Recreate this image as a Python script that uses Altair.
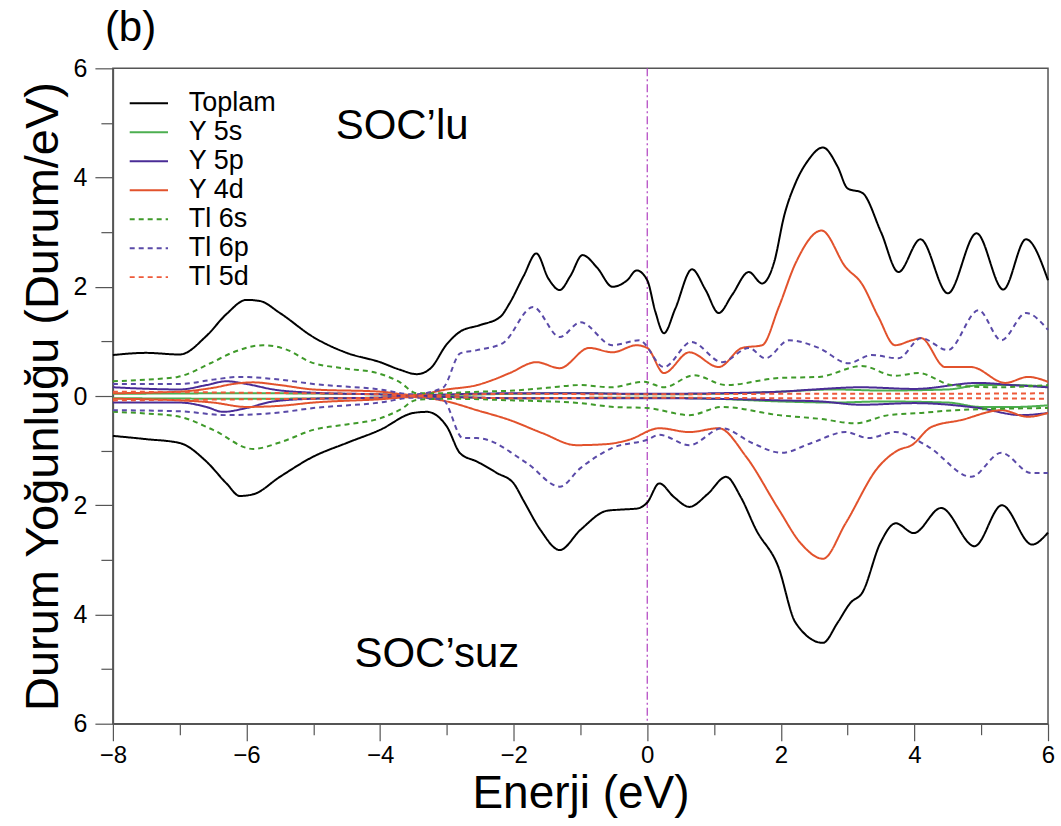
import altair as alt
import pandas as pd

# ---------------- data ----------------
series_order = ["Toplam", "Y 5s", "Y 5p", "Y 4d", "Tl 6s", "Tl 6p", "Tl 5d"]
series_colors = ["#000000", "#4caf50", "#4a2c96", "#e2522c", "#3f9a2a", "#5a4aa8", "#ee5a3a"]
series_dash = [[1, 0], [1, 0], [1, 0], [1, 0], [5, 4], [5, 4], [5, 4]]

# Toplam
toplam_up_E = [-8.0, -7.5, -7.0, -6.6, -6.3, -6.0, -5.8, -5.5, -5.0, -4.5, -4.0, -3.7, -3.45, -3.25, -3.0, -2.8,
               -2.5, -2.2, -2.06, -1.85, -1.66, -1.48, -1.31, -1.15, -0.97, -0.75, -0.52, -0.3, -0.16, 0.0, 0.12,
               0.25, 0.42, 0.67, 0.87, 1.07, 1.27, 1.52, 1.72, 1.9, 2.05, 2.22, 2.4, 2.63, 2.85, 3.0, 3.22, 3.5,
               3.76, 4.09, 4.5, 4.93, 5.33, 5.67, 6.0]
toplam_up = [0.75, 0.79, 0.76, 1.10, 1.50, 1.76, 1.74, 1.52, 1.08, 0.79, 0.62, 0.48, 0.40, 0.50, 0.95, 1.18,
             1.30, 1.45, 1.70, 2.20, 2.61, 2.15, 1.94, 2.20, 2.58, 2.35, 2.00, 2.12, 2.30, 2.12, 1.55,
             1.15, 1.60, 2.32, 1.95, 1.52, 1.85, 2.27, 2.06, 2.45, 3.30, 3.90, 4.30, 4.55, 4.20, 3.80, 3.72, 3.00,
             2.27, 2.87, 1.88, 2.98, 1.95, 2.87, 2.12]
toplam_dn_E = [-8.0, -7.5, -7.0, -6.6, -6.3, -6.1, -5.9, -5.5, -5.0, -4.5, -4.0, -3.5, -3.3, -3.0, -2.8, -2.55,
               -2.25, -2.0, -1.85, -1.6, -1.31, -1.0, -0.6, -0.4, -0.15, 0.0, 0.18, 0.4, 0.63, 0.9, 1.18, 1.4,
               1.63, 1.96, 2.22, 2.63, 2.85, 3.04, 3.22, 3.49, 3.72, 3.99, 4.4, 4.9, 5.31, 5.76, 6.0]
toplam_dn = [-0.73, -0.79, -0.86, -1.20, -1.60, -1.83, -1.80, -1.48, -1.11, -0.86, -0.62, -0.31, -0.29, -0.56, -1.05,
             -1.20, -1.41, -1.60, -1.92, -2.45, -2.82, -2.45, -2.10, -2.08, -2.06, -1.95, -1.60, -1.85, -2.03,
             -1.80, -1.48, -1.85, -2.45, -3.12, -4.15, -4.52, -4.15, -3.79, -3.60, -2.69, -2.33, -2.51, -2.05,
             -2.75, -2.00, -2.72, -2.50]

# Y 5s
y5s_up_E = [-8.0, -6.0, -4.0, -3.5, -2.0, -1.0, 0.0, 1.0, 2.0, 2.8, 3.5, 4.5, 5.0, 5.5, 6.0]
y5s_up = [0.04, 0.05, 0.03, 0.01, 0.04, 0.05, 0.03, 0.04, 0.08, 0.12, 0.10, 0.12, 0.20, 0.20, 0.17]
y5s_dn_E = [-8.0, -6.0, -4.0, -3.5, -2.0, 0.0, 1.0, 2.0, 2.8, 3.5, 4.5, 5.0, 5.5, 6.0]
y5s_dn = [-0.04, -0.05, -0.03, -0.01, -0.04, -0.03, -0.05, -0.10, -0.12, -0.10, -0.12, -0.20, -0.20, -0.17]

# Y 5p
y5p_up_E = [-8.0, -7.0, -6.6, -6.3, -6.0, -5.6, -5.0, -4.0, -3.5, -3.0, -2.0, -1.0, 0.0, 1.0, 2.0, 2.5, 3.2,
            4.0, 4.96, 5.46, 6.0]
y5p_up = [0.16, 0.12, 0.20, 0.27, 0.22, 0.12, 0.06, 0.03, 0.01, 0.03, 0.05, 0.05, 0.04, 0.05, 0.08, 0.12, 0.16,
          0.13, 0.24, 0.20, 0.16]
y5p_dn_E = [-8.0, -7.0, -6.6, -6.35, -6.0, -5.6, -5.0, -4.0, -3.5, -2.0, 0.0, 1.0, 2.0, 2.6, 3.2, 4.0, 4.96,
            5.6, 6.0]
y5p_dn = [-0.12, -0.12, -0.20, -0.29, -0.22, -0.10, -0.05, -0.03, -0.01, -0.04, -0.04, -0.05, -0.08, -0.10,
          -0.16, -0.13, -0.22, -0.35, -0.31]

# Y 4d
y4d_up_E = [-8.0, -7.0, -6.5, -6.2, -5.9, -5.5, -5.0, -4.0, -3.5, -3.0, -2.55, -2.3, -2.06, -1.66, -1.31,
            -0.87, -0.52, -0.16, 0.0, 0.25, 0.63, 1.07, 1.42, 1.72, 1.97, 2.22, 2.61, 2.97, 3.21, 3.46, 3.71,
            3.96, 4.1, 4.46, 4.85, 5.36, 5.7, 6.0]
y4d_up = [0.05, 0.08, 0.15, 0.22, 0.25, 0.20, 0.12, 0.08, 0.02, 0.12, 0.20, 0.30, 0.42, 0.62, 0.51,
          0.88, 0.80, 0.93, 0.88, 0.42, 0.80, 0.53, 0.88, 0.93, 1.63, 2.43, 3.03, 2.36, 2.06, 1.45, 0.93,
          1.02, 1.06, 0.53, 0.53, 0.24, 0.35, 0.26]
y4d_dn_E = [-8.0, -7.0, -6.5, -6.0, -5.5, -5.0, -4.0, -3.5, -3.0, -2.55, -2.06, -1.57, -1.06, -0.6, -0.27,
            0.18, 0.63, 1.07, 1.48, 1.97, 2.3, 2.63, 2.97, 3.46, 3.76, 3.96, 4.25, 4.7, 5.3, 5.7, 6.0]
y4d_dn = [-0.05, -0.08, -0.12, -0.20, -0.18, -0.12, -0.06, -0.02, -0.10, -0.26, -0.44, -0.68, -0.90, -0.88,
          -0.80, -0.59, -0.66, -0.59, -1.11, -2.08, -2.70, -2.98, -2.33, -1.30, -0.99, -0.90, -0.57, -0.44,
          -0.26, -0.38, -0.31]

# Tl 6s
tl6s_up_E = [-8.0, -7.5, -7.03, -6.54, -6.2, -5.75, -5.4, -5.04, -4.5, -4.04, -3.7, -3.45, -3.2, -2.5, -2.0,
             -1.5, -1.0, -0.55, -0.05, 0.25, 0.7, 1.18, 1.97, 2.57, 3.21, 3.71, 4.06, 4.56, 5.2, 6.0]
tl6s_up = [0.27, 0.30, 0.35, 0.60, 0.80, 0.93, 0.85, 0.62, 0.50, 0.42, 0.25, 0.05, 0.05, 0.08, 0.10,
           0.15, 0.20, 0.16, 0.26, 0.16, 0.38, 0.20, 0.33, 0.35, 0.55, 0.37, 0.42, 0.20, 0.16, 0.20]
tl6s_dn_E = [-8.0, -7.5, -7.0, -6.5, -5.9, -5.5, -5.0, -4.5, -4.0, -3.7, -3.45, -3.0, -2.0, -1.0, -0.5, 0.0,
             0.63, 1.12, 1.97, 2.6, 3.11, 3.61, 4.1, 4.6, 6.0]
tl6s_dn = [-0.29, -0.32, -0.38, -0.62, -0.97, -0.85, -0.62, -0.52, -0.41, -0.25, -0.07, -0.05, -0.08, -0.13,
           -0.20, -0.22, -0.35, -0.20, -0.35, -0.42, -0.50, -0.35, -0.31, -0.26, -0.22]

# Tl 6p
tl6p_up_E = [-8.0, -7.0, -6.5, -6.1, -5.5, -5.0, -4.0, -3.5, -3.06, -2.8, -2.55, -2.16, -1.71, -1.31, -1.0,
             -0.52, -0.12, 0.25, 0.66, 1.12, 1.52, 1.77, 2.12, 2.57, 3.01, 3.36, 3.76, 4.1, 4.5, 4.96, 5.3,
             5.67, 6.0]
tl6p_up = [0.22, 0.22, 0.30, 0.35, 0.30, 0.22, 0.12, 0.03, 0.15, 0.78, 0.84, 0.97, 1.63, 1.08, 1.35,
           0.93, 1.02, 0.53, 0.99, 0.62, 0.88, 0.69, 1.02, 0.88, 0.60, 0.75, 0.69, 1.06, 0.84, 1.57, 1.02,
           1.52, 1.21]
tl6p_dn_E = [-8.0, -7.0, -6.3, -5.5, -5.0, -4.0, -3.5, -3.06, -2.76, -2.55, -1.8, -1.31, -1.0, -0.52, 0.0,
             0.18, 0.63, 1.12, 1.57, 2.01, 2.46, 2.97, 3.31, 3.71, 4.21, 4.85, 5.3, 5.75, 6.0]
tl6p_dn = [-0.26, -0.28, -0.35, -0.30, -0.22, -0.12, -0.03, -0.07, -0.77, -0.77, -1.23, -1.66, -1.32, -0.95,
           -0.80, -0.71, -0.90, -0.59, -0.86, -1.04, -0.86, -0.66, -0.77, -0.66, -0.93, -1.48, -1.04, -1.41,
           -1.41]

# Tl 5d
tl5d_up_E = [-8.0, -6.0, -4.0, -3.5, -2.0, 0.0, 2.0, 4.0, 6.0]
tl5d_up = [0.08, 0.06, 0.03, 0.01, 0.04, 0.03, 0.04, 0.04, 0.05]
tl5d_dn_E = [-8.0, -6.0, -4.0, -3.5, -2.0, 0.0, 2.0, 4.0, 6.0]
tl5d_dn = [-0.08, -0.06, -0.03, -0.01, -0.04, -0.03, -0.04, -0.04, -0.05]

annot_text = ["SOC\u2019lu", "SOC\u2019suz"]
annot_E = [-3.67, -3.15]
annot_v = [4.95, -4.72]

# ---------------- build table ----------------
curves = [
    ("Toplam", "up", toplam_up_E, toplam_up), ("Toplam", "dn", toplam_dn_E, toplam_dn),
    ("Y 5s", "up", y5s_up_E, y5s_up), ("Y 5s", "dn", y5s_dn_E, y5s_dn),
    ("Y 5p", "up", y5p_up_E, y5p_up), ("Y 5p", "dn", y5p_dn_E, y5p_dn),
    ("Y 4d", "up", y4d_up_E, y4d_up), ("Y 4d", "dn", y4d_dn_E, y4d_dn),
    ("Tl 6s", "up", tl6s_up_E, tl6s_up), ("Tl 6s", "dn", tl6s_dn_E, tl6s_dn),
    ("Tl 6p", "up", tl6p_up_E, tl6p_up), ("Tl 6p", "dn", tl6p_dn_E, tl6p_dn),
    ("Tl 5d", "up", tl5d_up_E, tl5d_up), ("Tl 5d", "dn", tl5d_dn_E, tl5d_dn),
]
rows = []
for name, side, es, vs in curves:
    for e, v in zip(es, vs):
        rows.append({"series": name, "side": side, "curve": name + side, "E": e, "v": v})
df = pd.DataFrame(rows)
ann = pd.DataFrame({"t": annot_text, "E": annot_E, "v": annot_v})

FONT = "Liberation Sans"
AX = "#555555"

xscale = alt.Scale(domain=[-8, 6], nice=False, zero=False)
yscale = alt.Scale(domain=[-6, 6], nice=False, zero=False)

xaxis = alt.Axis(values=list(range(-8, 7)), title="Enerji (eV)", grid=False, format="d",
                 labelExpr="datum.value % 2 === 0 ? datum.label : ''",
                 tickSize={"condition": {"test": "datum.value % 2 === 0", "value": 17}, "value": 11},
                 labelFlush=False, labelOverlap=False, labelFontSize=24, labelPadding=3,
                 titleFontSize=46, titlePadding=4, titleFontWeight="normal")
yaxis = alt.Axis(values=list(range(-6, 7)), title="Durum Yoğunluğu (Durum/eV)", grid=False,
                 labelExpr="datum.value % 2 === 0 ? '' + abs(datum.value) : ''",
                 tickSize={"condition": {"test": "datum.value % 2 === 0", "value": 18}, "value": 12},
                 labelFlush=False, labelOverlap=False, labelFontSize=25, labelPadding=8,
                 titleFontSize=47, titlePadding=6, titleFontWeight="normal", titleLimit=1000)

lines = alt.Chart(df).mark_line(interpolate="monotone", strokeWidth=2).encode(
    x=alt.X("E:Q", scale=xscale, axis=xaxis),
    y=alt.Y("v:Q", scale=yscale, axis=yaxis),
    color=alt.Color("series:N", scale=alt.Scale(domain=series_order, range=series_colors),
                    sort=series_order,
                    legend=alt.Legend(orient="none", legendX=20, legendY=19, title=None,
                                      labelFontSize=27, labelFont=FONT,
                                      symbolType="M-1.3,0H1.3",
                                      symbolSize=870, symbolStrokeWidth=2, labelOffset=24,
                                      rowPadding=0, padding=0, labelLimit=300)),
    strokeDash=alt.StrokeDash("series:N", scale=alt.Scale(domain=series_order, range=series_dash),
                              sort=series_order, legend=None),
    strokeWidth=alt.condition(alt.datum.series == "Toplam", alt.value(2.6), alt.value(2.0)),
    detail="curve:N",
    order=alt.Order("E:Q"),
)

zero_line = alt.Chart(pd.DataFrame({"E": [0.0]})).mark_rule(
    color="#b040c0", strokeWidth=1.2, strokeDash=[8, 3, 2, 3]).encode(x="E:Q")

texts = alt.Chart(ann).mark_text(fontSize=42, font=FONT, color="black", align="center",
                                 baseline="middle").encode(x="E:Q", y="v:Q", text="t:N")

chart = alt.layer(zero_line, lines, texts).properties(
    width=936, height=656,
    title=alt.TitleParams("(b)", anchor="start", fontSize=42, font=FONT, fontWeight="normal",
                          dx=-8, offset=6, frame="group"),
    padding={"left": 19, "top": 7, "right": 6, "bottom": 1},
).configure_axis(
    labelFont=FONT, titleFont=FONT, domainColor=AX, tickColor=AX, labelColor="black",
    titleColor="black", domainWidth=1.5, tickWidth=1.2,
).configure_view(stroke=AX, strokeWidth=1.5).configure_legend(labelColor="black")

chart.save("out.html", embed_options={"renderer": "svg", "actions": False})
